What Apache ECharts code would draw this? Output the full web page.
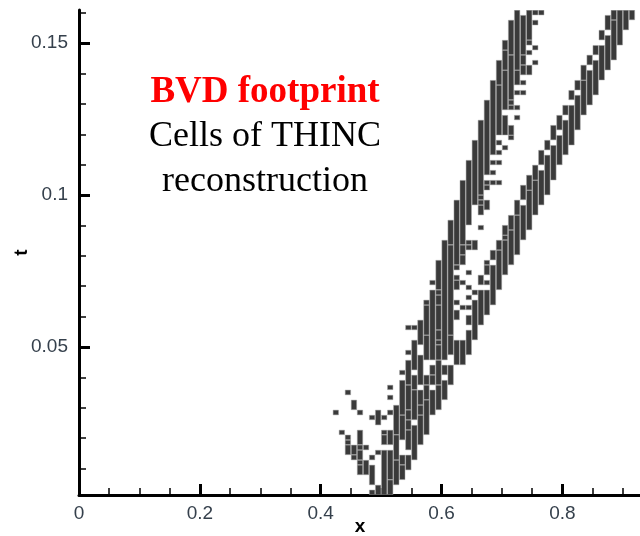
<!DOCTYPE html>
<html>
<head>
<meta charset="utf-8">
<script src="https://cdn.jsdelivr.net/npm/echarts@6/dist/echarts.min.js"></script>
<style>
html,body{margin:0;padding:0;background:#fff;}
#chart{width:640px;height:536px;}
</style>
</head>
<body>
<div id="chart"></div>
<script>
// Cell width of the mesh (x) and axis extents
const CELL_DX = 0.01;
const X_MIN = 0, X_MAX = 0.93;
const T_MIN = 0.0013, T_MAX = 0.1609;

// Tick values
const xMajorTicks = [0, 0.2, 0.4, 0.6, 0.8];
const xMinorTicks = [0.05,0.1,0.15,0.25,0.3,0.35,0.45,0.5,0.55,0.65,0.7,0.75,0.85,0.9];
const tMajorTicks = [0.05, 0.1, 0.15];
const tMinorTicks = [0.01,0.02,0.03,0.04,0.06,0.07,0.08,0.09,0.11,0.12,0.13,0.14,0.16];

// Cells flagged for THINC reconstruction: [cell left x, t from, t to]
const rightBand = [
[0.91,0.1576,0.1609],
[0.90,0.1543,0.1609],
[0.89,0.1493,0.1609],
[0.88,0.1576,0.1609],[0.88,0.1444,0.1576],
[0.87,0.1543,0.1592],[0.87,0.1411,0.1526],
[0.86,0.1510,0.1543],[0.86,0.1378,0.1493],
[0.85,0.1461,0.1493],[0.85,0.1329,0.1444],
[0.84,0.1428,0.1461],[0.84,0.1296,0.1411],
[0.83,0.1378,0.1428],[0.83,0.1263,0.1378],
[0.82,0.1345,0.1378],[0.82,0.1214,0.1329],
[0.81,0.1313,0.1345],[0.81,0.1164,0.1296],
[0.80,0.1263,0.1296],[0.80,0.1132,0.1247],
[0.79,0.1214,0.1263],[0.79,0.1099,0.1197],
[0.78,0.1181,0.1230],[0.78,0.1049,0.1164],
[0.77,0.1148,0.1181],[0.77,0.1000,0.1132],
[0.76,0.1099,0.1148],[0.76,0.0967,0.1082],
[0.75,0.1049,0.1099],[0.75,0.0934,0.1049],
[0.74,0.1016,0.1066],[0.74,0.0885,0.1016],
[0.73,0.0984,0.1033],[0.73,0.0852,0.0967],
[0.72,0.0934,0.0984],[0.72,0.0803,0.0934],
[0.71,0.0885,0.0934],[0.71,0.0770,0.0885],
[0.70,0.0868,0.0901],[0.70,0.0852,0.0868],[0.70,0.0737,0.0852],
[0.69,0.0819,0.0852],[0.69,0.0688,0.0819],
[0.68,0.0786,0.0819],[0.68,0.0638,0.0770],
[0.67,0.0770,0.0786],[0.67,0.0737,0.0770],[0.67,0.0704,0.0720],[0.67,0.0605,0.0688],
[0.66,0.0704,0.0737],[0.66,0.0572,0.0688],
[0.65,0.0671,0.0688],[0.65,0.0523,0.0655],
[0.64,0.0655,0.0671],[0.64,0.0622,0.0638],[0.64,0.0572,0.0605],[0.64,0.0474,0.0556],
[0.63,0.0441,0.0523]
];

const leftBand = [
[0.76,0.1592,0.1609],
[0.75,0.1592,0.1609],[0.75,0.1559,0.1576],[0.75,0.1477,0.1493],[0.75,0.1428,0.1444],
[0.74,0.1510,0.1609],[0.74,0.1493,0.1510],[0.74,0.1461,0.1477],[0.74,0.1395,0.1428],
[0.73,0.1461,0.1592],[0.73,0.1428,0.1461],[0.73,0.1395,0.1428],[0.73,0.1362,0.1378],[0.73,0.1329,0.1345],
[0.72,0.1411,0.1609],[0.72,0.1362,0.1411],[0.72,0.1329,0.1345],[0.72,0.1280,0.1296],[0.72,0.1247,0.1263],
[0.71,0.1461,0.1576],[0.71,0.1313,0.1461],[0.71,0.1296,0.1313],[0.71,0.1280,0.1296],[0.71,0.1197,0.1230],[0.71,0.1181,0.1197],
[0.70,0.1477,0.1510],[0.70,0.1411,0.1477],[0.70,0.1280,0.1411],[0.70,0.1197,0.1263],[0.70,0.1148,0.1164],
[0.69,0.1362,0.1444],[0.69,0.1197,0.1362],[0.69,0.1164,0.1181],[0.69,0.1132,0.1148],[0.69,0.1099,0.1115],[0.69,0.1033,0.1049],
[0.68,0.1132,0.1378],[0.68,0.1099,0.1115],[0.68,0.1066,0.1082],[0.68,0.1033,0.1049],
[0.67,0.1066,0.1313],[0.67,0.1033,0.1049],[0.67,0.1016,0.1033],[0.67,0.0951,0.0984],
[0.66,0.1000,0.1247],[0.66,0.0984,0.1000],[0.66,0.0967,0.0984],[0.66,0.0934,0.0967],[0.66,0.0885,0.0901],
[0.65,0.0967,0.1181],[0.65,0.0819,0.0852],
[0.64,0.0901,0.1115],[0.64,0.0836,0.0852],[0.64,0.0819,0.0836],[0.64,0.0737,0.0753],[0.64,0.0688,0.0704],
[0.63,0.0836,0.1049],[0.63,0.0803,0.0836],[0.63,0.0770,0.0803],[0.63,0.0704,0.0720],[0.63,0.0622,0.0638],
[0.62,0.0770,0.0984],[0.62,0.0753,0.0770],[0.62,0.0720,0.0737],[0.62,0.0688,0.0720],[0.62,0.0638,0.0655],[0.62,0.0589,0.0622],[0.62,0.0441,0.0523],
[0.61,0.0836,0.0918],[0.61,0.0539,0.0836],[0.61,0.0474,0.0539],[0.61,0.0375,0.0441],
[0.60,0.0457,0.0852],[0.60,0.0408,0.0441],[0.60,0.0326,0.0391],
[0.59,0.0688,0.0786],[0.59,0.0671,0.0688],[0.59,0.0638,0.0671],[0.59,0.0556,0.0638],[0.59,0.0523,0.0556],[0.59,0.0507,0.0523],[0.59,0.0457,0.0507],[0.59,0.0375,0.0457],[0.59,0.0293,0.0375],
[0.58,0.0704,0.0720],[0.58,0.0457,0.0688],[0.58,0.0408,0.0441],[0.58,0.0375,0.0408],[0.58,0.0276,0.0359],
[0.57,0.0638,0.0655],[0.57,0.0539,0.0638],[0.57,0.0457,0.0539],[0.57,0.0375,0.0408],[0.57,0.0326,0.0375],[0.57,0.0211,0.0326],
[0.56,0.0507,0.0589],[0.56,0.0375,0.0474],[0.56,0.0309,0.0359],[0.56,0.0276,0.0309],[0.56,0.0178,0.0276],
[0.55,0.0556,0.0572],[0.55,0.0424,0.0523],[0.55,0.0359,0.0408],[0.55,0.0260,0.0359],[0.55,0.0128,0.0243],
[0.54,0.0556,0.0572],[0.54,0.0474,0.0490],[0.54,0.0375,0.0457],[0.54,0.0293,0.0375],[0.54,0.0260,0.0293],[0.54,0.0227,0.0260],[0.54,0.0161,0.0227],[0.54,0.0095,0.0145],
[0.53,0.0408,0.0424],[0.53,0.0276,0.0391],[0.53,0.0194,0.0276],[0.53,0.0112,0.0145],[0.53,0.0063,0.0112],
[0.52,0.0211,0.0309],[0.52,0.0128,0.0211],[0.52,0.0046,0.0128],
[0.51,0.0359,0.0375],[0.51,0.0326,0.0342],[0.51,0.0276,0.0293],[0.51,0.0178,0.0227],[0.51,0.0063,0.0161],[0.51,0.0013,0.0063],
[0.50,0.0260,0.0276],[0.50,0.0211,0.0227],[0.50,0.0178,0.0211],[0.50,0.0013,0.0161],
[0.49,0.0243,0.0293],[0.49,0.0145,0.0161],[0.49,0.0013,0.0046],
[0.48,0.0260,0.0276],[0.48,0.0128,0.0145],[0.48,0.0046,0.0112],[0.48,0.0013,0.0030],
[0.47,0.0161,0.0178],[0.47,0.0079,0.0128],
[0.46,0.0276,0.0293],[0.46,0.0178,0.0227],[0.46,0.0161,0.0178],[0.46,0.0128,0.0161],[0.46,0.0112,0.0128],[0.46,0.0079,0.0112],
[0.45,0.0293,0.0326],[0.45,0.0145,0.0178],[0.45,0.0128,0.0145],
[0.44,0.0342,0.0359],[0.44,0.0194,0.0211],[0.44,0.0178,0.0194],[0.44,0.0145,0.0178],
[0.43,0.0211,0.0227],
[0.42,0.0276,0.0293]
];

const annotationLines = ['BVD footprint', 'Cells of THINC', 'reconstruction'];

const chart = echarts.init(document.getElementById('chart'), null, {renderer: 'canvas'});

function renderCell(params, api) {
  const x0 = api.value(0), lo = api.value(1), hi = api.value(2);
  const p1 = api.coord([x0, hi]);
  const p2 = api.coord([x0 + CELL_DX, lo]);
  const cs = params.coordSys;
  const shape = echarts.graphic.clipRectByRect(
    {x: p1[0] + 0.3, y: p1[1] + 0.2, width: p2[0] - p1[0] - 0.6, height: p2[1] - p1[1] - 0.4},
    {x: cs.x, y: cs.y, width: cs.width, height: cs.height}
  );
  return shape && {
    type: 'rect', shape: shape,
    style: {fill: '#3a3a3a', stroke: '#a8a8a8', lineWidth: 0.5}
  };
}

const labelColor = '#35404c';
const labelFont = {fontSize: 19, fontFamily: 'Liberation Sans, Arial, sans-serif', color: labelColor};
const nameFont = {fontSize: 19, fontWeight: 'bold', color: '#000', fontFamily: 'Liberation Sans, Arial, sans-serif'};

const option = {
  animation: false,
  backgroundColor: '#ffffff',
  grid: {left: 79, top: 10, width: 562, height: 485, containLabel: false, outerBoundsMode: 'none'},
  xAxis: [
    {
      type: 'value', min: X_MIN, max: X_MAX,
      name: 'x', nameLocation: 'middle', nameGap: 22, nameMoveOverlap: false,
      nameTextStyle: nameFont,
      axisLine: {show: true, onZero: false, lineStyle: {color: '#000', width: 3}},
      axisTick: {show: true, inside: true, length: 11, customValues: xMajorTicks, lineStyle: {color: '#000', width: 3}},
      axisLabel: Object.assign({customValues: xMajorTicks, margin: 9}, labelFont),
      splitLine: {show: false}
    },
    {
      type: 'value', min: X_MIN, max: X_MAX, position: 'bottom',
      axisLine: {show: false},
      axisTick: {show: true, inside: true, length: 7, customValues: xMinorTicks, lineStyle: {color: '#000', width: 1.5}},
      axisLabel: {show: false},
      splitLine: {show: false}
    }
  ],
  yAxis: [
    {
      type: 'value', min: T_MIN, max: T_MAX,
      name: 't', nameLocation: 'middle', nameGap: 48, nameMoveOverlap: false,
      nameTextStyle: nameFont,
      axisLine: {show: true, onZero: false, lineStyle: {color: '#000', width: 3}},
      axisTick: {show: true, inside: true, length: 11, customValues: tMajorTicks, lineStyle: {color: '#000', width: 3}},
      axisLabel: Object.assign({customValues: tMajorTicks, margin: 11}, labelFont),
      splitLine: {show: false}
    },
    {
      type: 'value', min: T_MIN, max: T_MAX, position: 'left',
      axisLine: {show: false},
      axisTick: {show: true, inside: true, length: 7, customValues: tMinorTicks, lineStyle: {color: '#000', width: 1.5}},
      axisLabel: {show: false},
      splitLine: {show: false}
    }
  ],
  graphic: [
    {type: 'text', x: 265, y: 92, style: {text: annotationLines[0], fill: '#ff0000', font: 'bold 37px "Liberation Serif", "Times New Roman", serif', align: 'center', verticalAlign: 'middle'}},
    {type: 'text', x: 265, y: 137, style: {text: annotationLines[1], fill: '#000000', font: '36px "Liberation Serif", "Times New Roman", serif', align: 'center', verticalAlign: 'middle'}},
    {type: 'text', x: 265, y: 182, style: {text: annotationLines[2], fill: '#000000', font: '36px "Liberation Serif", "Times New Roman", serif', align: 'center', verticalAlign: 'middle'}}
  ],
  series: [
    {
      type: 'custom', name: 'left band', xAxisIndex: 0, yAxisIndex: 0,
      renderItem: renderCell, clip: true,
      encode: {x: 0, y: [1, 2]},
      data: leftBand
    },
    {
      type: 'custom', name: 'right band', xAxisIndex: 0, yAxisIndex: 0,
      renderItem: renderCell, clip: true,
      encode: {x: 0, y: [1, 2]},
      data: rightBand
    }
  ]
};
chart.setOption(option);
</script>
</body>
</html>
